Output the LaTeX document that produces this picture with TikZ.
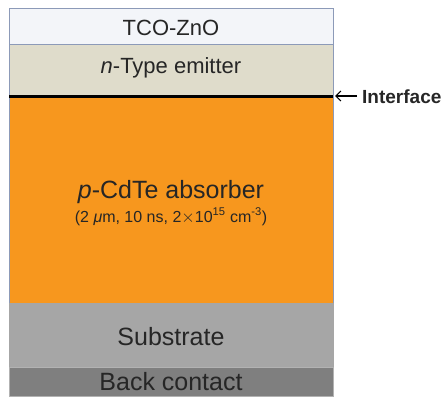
\documentclass[tikz,border=0pt]{standalone}
\usepackage{fontspec}
\setmainfont{Liberation Sans}
\usetikzlibrary{arrows.meta}
\definecolor{tcocol}{HTML}{F3F5F9}
\definecolor{ncol}{HTML}{DFDCCB}
\definecolor{pcol}{HTML}{F7971E}
\definecolor{subcol}{HTML}{A6A6A6}
\definecolor{backcol}{HTML}{7F7F7F}
\definecolor{edgecol}{HTML}{8C9AB8}
\begin{document}
\begin{tikzpicture}[x=1pt,y=-1pt,
  layer/.style={draw=edgecol,line width=0.8pt},
  lab/.style={anchor=base,inner sep=0pt,text=black!85}]
\useasboundingbox (0,0) rectangle (442,399);
\fill[white] (0,0) rectangle (442,399);
% layers
\draw[layer,fill=tcocol] (9,8) rectangle (333,44);
\draw[layer,fill=ncol] (9,44) rectangle (333,95);
\draw[layer,fill=pcol] (9,96) rectangle (333,303);
\draw[layer,draw=gray!70,fill=subcol] (9,303) rectangle (333,367);
\draw[layer,draw=gray!60,fill=backcol] (9,367) rectangle (333,396);
\draw[line width=3pt,black] (9,96) -- (333,96);
% labels
\node[lab,font=\fontsize{22}{26}\selectfont] (tco) at (171,35) {TCO-ZnO};
\node[lab,font=\fontsize{22}{26}\selectfont] (ntype) at (171,73) {\textit{n}-Type emitter};
\node[lab,font=\fontsize{25}{30}\selectfont] (pcdte) at (171,198) {\textit{p}-CdTe absorber};
\node[lab,font=\fontsize{16}{19}\selectfont] (params) at (171,222) {(2 \textit{μ}m, 10 ns, 2$\times$10\textsuperscript{15} cm\textsuperscript{-3})};
\node[lab,font=\fontsize{25}{30}\selectfont] (sub) at (171,345) {Substrate};
\node[lab,font=\fontsize{25}{30}\selectfont] (back) at (171,390) {Back contact};
\node[lab,anchor=base west,font=\bfseries\fontsize{19}{22}\selectfont] (intf) at (362,103) {Interface};
\coordinate (edge) at (335,96);
\draw[-{Straight Barb[length=5pt,width=10pt]},line width=1.2pt] (intf.west |- edge) ++(-5,0) -- (edge);
\end{tikzpicture}
\end{document}
